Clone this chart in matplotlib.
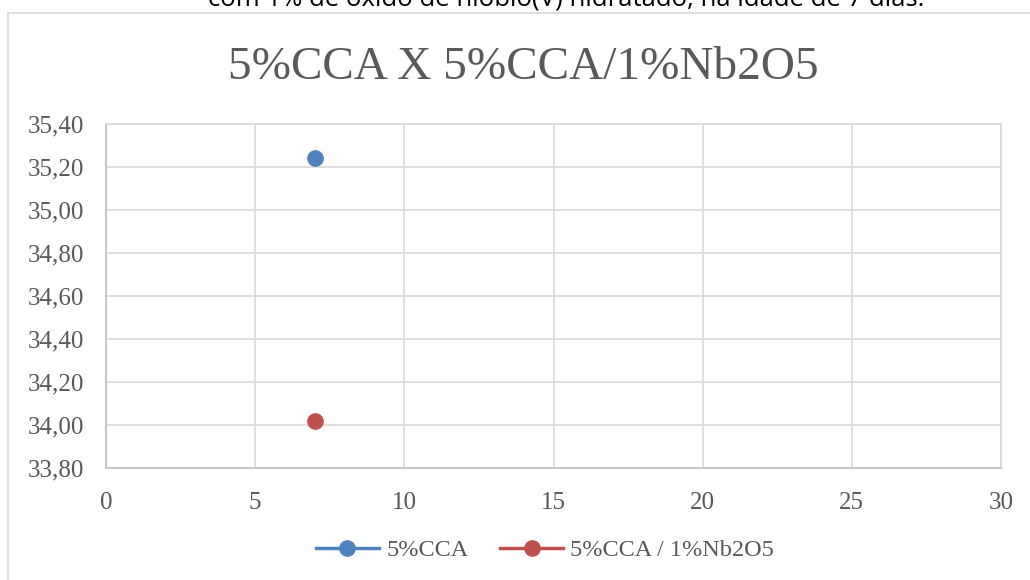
import matplotlib
matplotlib.use("Agg")
import matplotlib.pyplot as plt
from matplotlib.lines import Line2D

# Data
idade_dias = [7]
serie_cca = [35.24]
serie_cca_nb = [34.02]
nomes = ["5%CCA", "5%CCA / 1%Nb2O5"]
cores = ["#4f81bd", "#c0504d"]
titulo = "5%CCA X 5%CCA/1%Nb2O5"
legenda_doc = "com 1% de óxido de nióbio(V) hidratado, na idade de 7 dias."

W, H = 1030, 580
fig = plt.figure(figsize=(W / 100, H / 100), dpi=100)
fig.patch.set_facecolor("white")

serif = ["Liberation Serif", "DejaVu Serif"]
texto = "#595959"
grade = "#d9d9d9"

# Document caption above the chart frame (runs past the top of the page)
fig.text(566 / W, 1 - 6 / H, legenda_doc, ha="center", va="baseline",
         fontsize=18.5, family=["Open Sans", "DejaVu Sans"], color="black")

# Chart frame
fig.add_artist(Line2D([8 / W, 8 / W], [0, 1 - 13 / H], transform=fig.transFigure,
                      color=grade, lw=1.2))
fig.add_artist(Line2D([8 / W, 1], [1 - 13 / H, 1 - 13 / H], transform=fig.transFigure,
                      color=grade, lw=1.2))

# Plot area
left, right, top, bottom = 106, 1001, 124, 468
ax = fig.add_axes([left / W, 1 - bottom / H, (right - left) / W, (bottom - top) / H])

ax.plot(idade_dias, serie_cca, "-o", color=cores[0], lw=2.5, ms=11, label=nomes[0])
ax.plot(idade_dias, serie_cca_nb, "-o", color=cores[1], lw=2.5, ms=11, label=nomes[1])

ax.set_xlim(0, 30)
ax.set_ylim(33.8, 35.4)
ax.set_xticks(range(0, 31, 5))
yt = [33.8 + 0.2 * i for i in range(9)]
ax.set_yticks(yt)
ax.set_yticklabels([f"{v:.2f}".replace(".", ",") for v in yt])

ax.grid(True, color=grade, lw=1.2)
ax.set_axisbelow(True)
for s in ["top", "right"]:
    ax.spines[s].set_color(grade)
    ax.spines[s].set_linewidth(1.2)
for s in ["left", "bottom"]:
    ax.spines[s].set_color("#bfbfbf")
    ax.spines[s].set_linewidth(1.2)

ax.tick_params(length=0, labelsize=18, labelcolor=texto)
ax.tick_params(axis="x", pad=17)
ax.tick_params(axis="y", pad=16)
for lab in ax.get_xticklabels() + ax.get_yticklabels():
    lab.set_family(serif)

fig.text(523 / W, 1 - 68 / H, titulo, ha="center", va="center",
         fontsize=34, family=serif, color=texto)

leg = fig.legend(loc="center", bbox_to_anchor=(545 / W, 1 - 550 / H), ncol=2,
                 frameon=False, handlelength=2.6, columnspacing=1.3, handletextpad=0.3,
                 prop={"family": serif, "size": 17.5})
for t in leg.get_texts():
    t.set_color(texto)

fig.savefig("out.png", dpi=100)
